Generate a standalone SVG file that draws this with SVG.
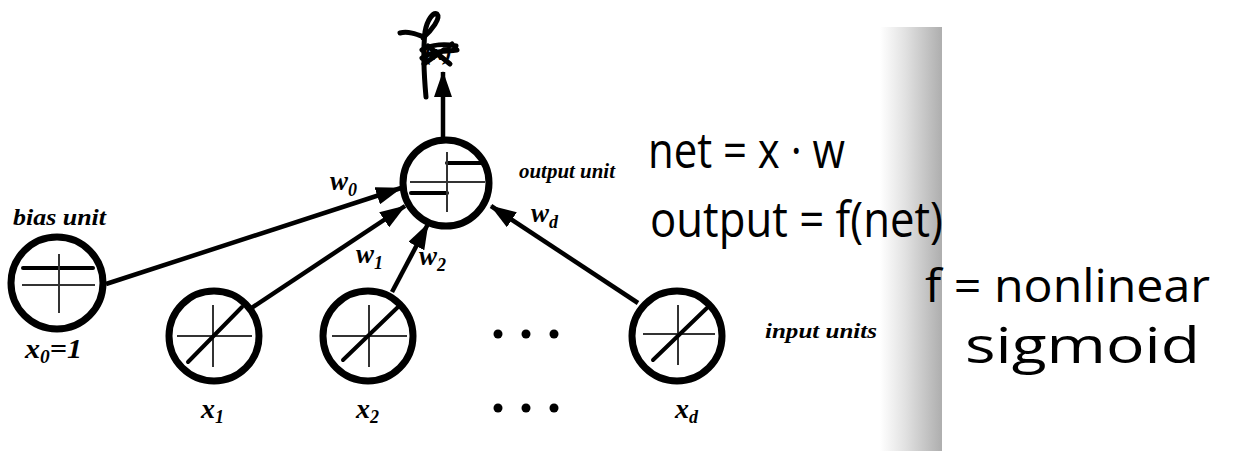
<svg xmlns="http://www.w3.org/2000/svg" width="1242" height="451" viewBox="0 0 1242 451">
  <defs>
    <marker id="head" viewBox="0 0 26 18" markerWidth="26" markerHeight="18" refX="25" refY="9" orient="auto" markerUnits="userSpaceOnUse">
      <path d="M0,0 L26,9 L0,18 z" fill="#000"/>
    </marker>
    <linearGradient id="shade" x1="0" y1="0" x2="1" y2="0">
      <stop offset="0" stop-color="#ffffff"/>
      <stop offset="0.4" stop-color="#e2e2e2"/>
      <stop offset="1" stop-color="#aeaeae"/>
    </linearGradient>
    <style>
      .unit { fill: #fff; stroke: #000; stroke-width: 7; }
      .thick { stroke: #000; stroke-width: 4; stroke-linecap: round; }
      .thin { stroke: #333; stroke-width: 2; }
      .edge { stroke: #000; stroke-width: 4.5; fill: none; marker-end: url(#head); }
      .lbl { font-family: "Liberation Serif", serif; font-style: italic; font-weight: bold; fill: #000; }
      .hand { font-family: "Open Sans", "DejaVu Sans", sans-serif; fill: #000; }
      .ink { stroke: #000; stroke-width: 5; fill: none; stroke-linecap: round; stroke-linejoin: round; }
    </style>
  </defs>
  <rect width="1242" height="451" fill="#fff"/>

  <!-- shaded page fold -->
  <rect x="880" y="27" width="62" height="424" fill="url(#shade)"/>

  <!-- connectors -->
  <g id="connectors">
    <line class="edge" x1="106" y1="284" x2="401" y2="188"/>
    <line class="edge" x1="250" y1="309" x2="405" y2="206"/>
    <line class="edge" x1="392" y1="292" x2="428" y2="224"/>
    <line class="edge" x1="638" y1="303" x2="491" y2="206"/>
    <line class="edge" x1="443" y1="137" x2="443" y2="72"/>
  </g>

  <!-- output unit: step activation -->
  <g id="output-unit">
    <circle class="unit" cx="446" cy="183" r="43"/>
    <line class="thin" x1="410" y1="182" x2="485" y2="182"/>
    <line class="thick" x1="447" y1="163" x2="482" y2="163"/>
    <line class="thick" x1="411" y1="193" x2="447" y2="193"/>
    <line class="thin" x1="447" y1="152" x2="447" y2="212"/>
    <text class="lbl" x="519" y="178" font-size="22" textLength="96" lengthAdjust="spacingAndGlyphs">output unit</text>
  </g>

  <!-- output value f(x), struck through by hand -->
  <g id="output-value">
    <text class="lbl" x="424" y="60" font-size="24">(x)</text>
    <path class="ink" d="M422,50 C432,44 446,44 456,46 M422,58 C434,50 446,52 457,50 M424,64 L452,44 M428,46 L450,64"/>
    <path class="ink" d="M426,97 C424,75 423,50 425,32 C427,20 433,12 437,14 C441,18 432,30 423,38 M400,33 C408,31 416,34 424,37"/>
  </g>

  <!-- bias unit -->
  <g id="bias-unit">
    <circle class="unit" cx="57" cy="283" r="46"/>
    <line class="thick" x1="23" y1="268" x2="93" y2="268"/>
    <line class="thin" x1="22" y1="285" x2="95" y2="285"/>
    <line class="thin" x1="59" y1="254" x2="59" y2="313"/>
    <text class="lbl" x="13" y="225" font-size="23" textLength="93" lengthAdjust="spacingAndGlyphs">bias unit</text>
    <text class="lbl" x="25" y="358" font-size="28" textLength="57" lengthAdjust="spacingAndGlyphs">x<tspan font-size="18" dy="5">0</tspan><tspan dy="-5">=1</tspan></text>
  </g>

  <!-- input unit x1 -->
  <g id="input-x1">
    <circle class="unit" cx="214" cy="336" r="45"/>
    <line class="thin" x1="177" y1="336" x2="252" y2="336"/>
    <line class="thin" x1="213" y1="305" x2="213" y2="367"/>
    <line class="thick" x1="188" y1="362" x2="242" y2="307"/>
    <text class="lbl" x="201" y="418" font-size="28">x<tspan font-size="18" dy="5">1</tspan></text>
  </g>

  <!-- input unit x2 -->
  <g id="input-x2">
    <circle class="unit" cx="368" cy="336" r="45"/>
    <line class="thin" x1="332" y1="336" x2="407" y2="336"/>
    <line class="thin" x1="369" y1="305" x2="369" y2="367"/>
    <line class="thick" x1="343" y1="360" x2="398" y2="307"/>
    <text class="lbl" x="356" y="418" font-size="28">x<tspan font-size="18" dy="5">2</tspan></text>
  </g>

  <!-- ellipsis between inputs -->
  <g id="ellipsis">
    <circle cx="498" cy="334" r="4.5"/>
    <circle cx="526" cy="334" r="4.5"/>
    <circle cx="554" cy="334" r="4.5"/>
    <circle cx="498" cy="408" r="4.5"/>
    <circle cx="526" cy="408" r="4.5"/>
    <circle cx="554" cy="408" r="4.5"/>
  </g>

  <!-- input unit xd -->
  <g id="input-xd">
    <circle class="unit" cx="677" cy="336" r="45"/>
    <line class="thin" x1="643" y1="334" x2="715" y2="334"/>
    <line class="thin" x1="678" y1="305" x2="678" y2="365"/>
    <line class="thick" x1="653" y1="360" x2="709" y2="306"/>
    <text class="lbl" x="675" y="418" font-size="28">x<tspan font-size="18" dy="5">d</tspan></text>
    <text class="lbl" x="765" y="338" font-size="22" textLength="112" lengthAdjust="spacingAndGlyphs">input units</text>
  </g>

  <!-- weight labels -->
  <g id="weights">
    <text class="lbl" x="330" y="190" font-size="27">w<tspan font-size="18" dy="6">0</tspan></text>
    <text class="lbl" x="356" y="263" font-size="27">w<tspan font-size="18" dy="6">1</tspan></text>
    <text class="lbl" x="419" y="265" font-size="27">w<tspan font-size="18" dy="6">2</tspan></text>
    <text class="lbl" x="531" y="222" font-size="27">w<tspan font-size="18" dy="6">d</tspan></text>
  </g>

  <!-- handwritten notes -->
  <g id="notes">
    <text class="hand" x="648" y="168" font-size="50" textLength="197" lengthAdjust="spacingAndGlyphs">net = x · w</text>
    <text class="hand" x="650" y="237" font-size="50" textLength="293" lengthAdjust="spacingAndGlyphs">output = f(net)</text>
    <text class="hand" x="925" y="302" font-size="46" textLength="285" lengthAdjust="spacingAndGlyphs">f = nonlinear</text>
    <text class="hand" x="965" y="363" font-size="50" textLength="235" lengthAdjust="spacingAndGlyphs">sigmoid</text>
  </g>
</svg>
